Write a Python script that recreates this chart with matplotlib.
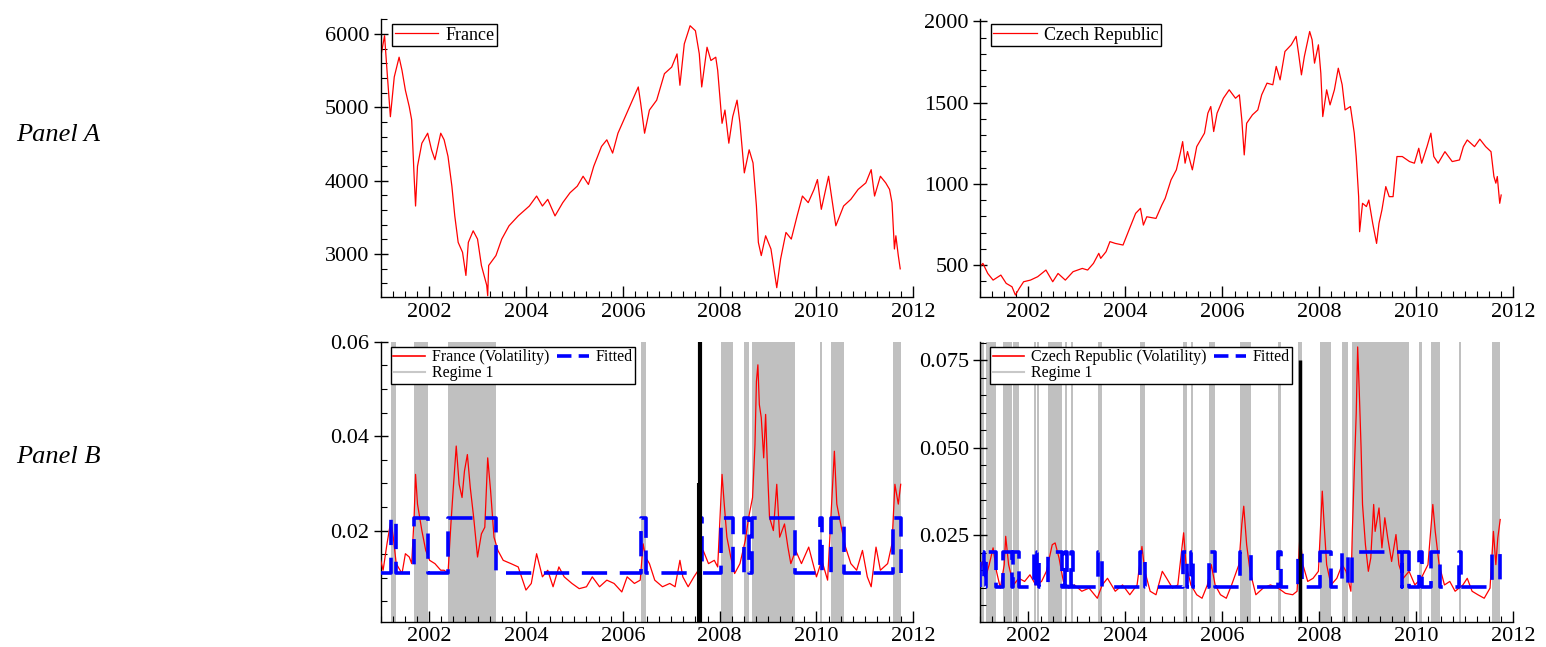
import matplotlib
matplotlib.use('Agg')
import matplotlib.pyplot as plt
from matplotlib.lines import Line2D
from matplotlib.ticker import MultipleLocator, FormatStrFormatter

plt.rcParams.update({
    'font.family': ['Liberation Serif', 'DejaVu Serif'],
    'font.size': 15,
    'axes.linewidth': 1.0,
})

RED = '#ff0000'
BLUE = '#0000ff'
SHADE = '#c0c0c0'

# ── Panel A: index levels ─────────────────────────────────────────────────────
fr_year = [2001.00, 2001.08, 2001.13, 2001.20, 2001.28, 2001.38, 2001.44, 2001.51, 2001.59, 2001.64,
           2001.69, 2001.72, 2001.76, 2001.85, 2001.97, 2002.05, 2002.12, 2002.24, 2002.31, 2002.39,
           2002.47, 2002.53, 2002.60, 2002.69, 2002.76, 2002.81, 2002.91, 2003.00, 2003.08, 2003.19,
           2003.21, 2003.23, 2003.38, 2003.50, 2003.65, 2003.84, 2004.07, 2004.22, 2004.34, 2004.45,
           2004.60, 2004.76, 2004.91, 2005.06, 2005.18, 2005.29, 2005.40, 2005.56, 2005.67, 2005.79,
           2005.90, 2006.05, 2006.20, 2006.32, 2006.37, 2006.45, 2006.55, 2006.70, 2006.86, 2007.01,
           2007.12, 2007.18, 2007.27, 2007.39, 2007.50, 2007.58, 2007.63, 2007.74, 2007.82, 2007.92,
           2007.96, 2008.05, 2008.11, 2008.19, 2008.27, 2008.36, 2008.42, 2008.51, 2008.61, 2008.69,
           2008.76, 2008.80, 2008.86, 2008.95, 2009.06, 2009.18, 2009.26, 2009.37, 2009.48, 2009.60,
           2009.71, 2009.83, 2009.95, 2010.02, 2010.10, 2010.25, 2010.37, 2010.40, 2010.56, 2010.71,
           2010.86, 2011.02, 2011.13, 2011.20, 2011.32, 2011.43, 2011.51, 2011.56, 2011.61, 2011.64,
           2011.69, 2011.73]
fr_index = [5684, 5977, 5504, 4872, 5414, 5684, 5504, 5233, 5008, 4827,
            4060, 3654, 4196, 4510, 4647, 4421, 4286, 4647, 4557, 4331,
            3925, 3519, 3158, 3023, 2707, 3158, 3316, 3203, 2843, 2572,
            2430, 2843, 2978, 3203, 3384, 3519, 3654, 3790, 3654, 3745,
            3519, 3700, 3835, 3925, 4060, 3948, 4196, 4466, 4557, 4376,
            4647, 4872, 5098, 5278, 5053, 4647, 4963, 5098, 5459, 5549,
            5729, 5301, 5865, 6113, 6045, 5729, 5278, 5820, 5639, 5684,
            5504, 4782, 4963, 4511, 4872, 5098, 4782, 4106, 4421, 4241,
            3654, 3158, 2978, 3248, 3068, 2540, 2933, 3294, 3203, 3519,
            3790, 3700, 3880, 4015, 3609, 4060, 3519, 3384, 3654, 3745,
            3880, 3970, 4150, 3790, 4060, 3970, 3880, 3700, 3068, 3248,
            2978, 2797]

cz_year = [2001.00, 2001.06, 2001.16, 2001.27, 2001.43, 2001.54, 2001.66, 2001.73, 2001.81, 2001.90,
           2002.04, 2002.19, 2002.36, 2002.50, 2002.61, 2002.76, 2002.92, 2003.11, 2003.22, 2003.34,
           2003.45, 2003.49, 2003.60, 2003.68, 2003.79, 2003.95, 2004.10, 2004.21, 2004.31, 2004.37,
           2004.44, 2004.63, 2004.75, 2004.82, 2004.94, 2005.05, 2005.13, 2005.18, 2005.23, 2005.28,
           2005.38, 2005.47, 2005.63, 2005.70, 2005.76, 2005.82, 2005.89, 2006.02, 2006.14, 2006.27,
           2006.35, 2006.40, 2006.45, 2006.50, 2006.62, 2006.73, 2006.81, 2006.92, 2007.04, 2007.11,
           2007.19, 2007.29, 2007.42, 2007.52, 2007.57, 2007.63, 2007.69, 2007.80, 2007.85, 2007.90,
           2007.98, 2008.03, 2008.07, 2008.15, 2008.22, 2008.31, 2008.39, 2008.47, 2008.53, 2008.64,
           2008.72, 2008.76, 2008.81, 2008.83, 2008.89, 2008.97, 2009.02, 2009.10, 2009.18, 2009.23,
           2009.29, 2009.37, 2009.44, 2009.52, 2009.60, 2009.71, 2009.86, 2009.96, 2010.05, 2010.11,
           2010.22, 2010.30, 2010.36, 2010.45, 2010.59, 2010.74, 2010.89, 2010.97, 2011.05, 2011.20,
           2011.31, 2011.43, 2011.54, 2011.60, 2011.64, 2011.67, 2011.72, 2011.75]
cz_index = [490, 510, 448, 407, 438, 387, 366, 315, 356, 397,
            407, 428, 469, 397, 448, 407, 459, 479, 469, 510,
            572, 541, 582, 644, 633, 623, 736, 818, 849, 746,
            797, 787, 869, 911, 1024, 1086, 1188, 1260, 1127, 1199,
            1086, 1229, 1312, 1435, 1476, 1322, 1435, 1527, 1579, 1527,
            1548, 1394, 1178, 1373, 1425, 1455, 1548, 1620, 1610, 1723,
            1640, 1815, 1856, 1908, 1805, 1671, 1784, 1938, 1887, 1743,
            1856, 1681, 1414, 1579, 1486, 1579, 1712, 1610, 1455, 1476,
            1312, 1168, 921, 705, 880, 860, 900, 757, 633, 757,
            839, 983, 921, 921, 1168, 1168, 1137, 1127, 1219, 1127,
            1229, 1312, 1168, 1127, 1198, 1137, 1147, 1229, 1270, 1229,
            1275, 1229, 1198, 1045, 1004, 1045, 880, 931]

# ── Panel B: volatility, fitted levels and regime-1 periods ───────────────────
frv_year = [2001.00, 2001.05, 2001.13, 2001.21, 2001.26, 2001.32, 2001.44, 2001.51, 2001.59, 2001.64,
            2001.69, 2001.72, 2001.76, 2001.85, 2001.93, 2002.01, 2002.12, 2002.24, 2002.31, 2002.39,
            2002.45, 2002.50, 2002.56, 2002.62, 2002.68, 2002.73, 2002.79, 2002.85, 2002.92, 2003.00,
            2003.08, 2003.15, 2003.21, 2003.27, 2003.34, 2003.42, 2003.53, 2003.69, 2003.84, 2004.00,
            2004.11, 2004.22, 2004.34, 2004.45, 2004.56, 2004.68, 2004.79, 2004.95, 2005.10, 2005.25,
            2005.37, 2005.52, 2005.67, 2005.82, 2005.98, 2006.09, 2006.24, 2006.36, 2006.42, 2006.47,
            2006.55, 2006.66, 2006.82, 2006.97, 2007.08, 2007.18, 2007.24, 2007.35, 2007.47, 2007.56,
            2007.66, 2007.77, 2007.89, 2007.96, 2008.05, 2008.09, 2008.15, 2008.23, 2008.31, 2008.42,
            2008.53, 2008.60, 2008.68, 2008.73, 2008.76, 2008.79, 2008.82, 2008.86, 2008.91, 2008.95,
            2008.99, 2009.03, 2009.11, 2009.18, 2009.24, 2009.34, 2009.41, 2009.47, 2009.57, 2009.69,
            2009.84, 2010.00, 2010.11, 2010.23, 2010.37, 2010.42, 2010.50, 2010.60, 2010.71, 2010.83,
            2010.95, 2011.05, 2011.13, 2011.23, 2011.32, 2011.47, 2011.56, 2011.62, 2011.69, 2011.74]
frv_vol = [0.0137, 0.0116, 0.0172, 0.0221, 0.0186, 0.0130, 0.0109, 0.0151, 0.0144, 0.0130,
           0.0228, 0.0319, 0.0256, 0.0200, 0.0158, 0.0137, 0.0130, 0.0116, 0.0116, 0.0109,
           0.0214, 0.0291, 0.0379, 0.0298, 0.0270, 0.0326, 0.0361, 0.0291, 0.0228, 0.0144,
           0.0193, 0.0207, 0.0354, 0.0284, 0.0186, 0.0158, 0.0137, 0.0130, 0.0123, 0.0074,
           0.0088, 0.0151, 0.0102, 0.0116, 0.0081, 0.0123, 0.0102, 0.0088, 0.0077, 0.0081,
           0.0102, 0.0081, 0.0095, 0.0088, 0.0070, 0.0102, 0.0088, 0.0095, 0.0172, 0.0144,
           0.0130, 0.0095, 0.0081, 0.0088, 0.0081, 0.0137, 0.0102, 0.0081, 0.0102, 0.0116,
           0.0158, 0.0130, 0.0137, 0.0123, 0.0319, 0.0263, 0.0186, 0.0144, 0.0109, 0.0130,
           0.0179, 0.0228, 0.0270, 0.0382, 0.0516, 0.0551, 0.0467, 0.0439, 0.0354, 0.0446,
           0.0326, 0.0228, 0.0200, 0.0298, 0.0186, 0.0214, 0.0165, 0.0130, 0.0158, 0.0130,
           0.0165, 0.0102, 0.0137, 0.0095, 0.0368, 0.0256, 0.0214, 0.0165, 0.0130, 0.0116,
           0.0158, 0.0102, 0.0081, 0.0165, 0.0116, 0.0130, 0.0172, 0.0298, 0.0256, 0.0298]
fr_fit_low, fr_fit_high = 0.0111, 0.0226
fr_reg_start = [2001.21, 2001.68, 2002.40, 2006.37, 2007.60, 2008.02, 2008.51, 2008.67, 2010.08, 2010.31, 2011.58]
fr_reg_end   = [2001.31, 2001.98, 2003.38, 2006.47, 2007.64, 2008.27, 2008.61, 2009.56, 2010.11, 2010.57, 2011.75]

czv_year = [2001.00, 2001.05, 2001.11, 2001.19, 2001.27, 2001.34, 2001.42, 2001.50, 2001.53, 2001.59,
            2001.69, 2001.80, 2001.92, 2002.03, 2002.15, 2002.27, 2002.37, 2002.49, 2002.55, 2002.63,
            2002.72, 2002.83, 2002.95, 2003.10, 2003.25, 2003.42, 2003.52, 2003.63, 2003.79, 2003.94,
            2004.09, 2004.24, 2004.34, 2004.40, 2004.51, 2004.63, 2004.76, 2004.85, 2004.97, 2005.08,
            2005.20, 2005.25, 2005.35, 2005.47, 2005.58, 2005.69, 2005.77, 2005.85, 2005.96, 2006.08,
            2006.19, 2006.34, 2006.40, 2006.44, 2006.50, 2006.57, 2006.69, 2006.84, 2006.99, 2007.15,
            2007.30, 2007.45, 2007.54, 2007.60, 2007.66, 2007.76, 2007.87, 2007.98, 2008.06, 2008.09,
            2008.15, 2008.24, 2008.36, 2008.47, 2008.55, 2008.65, 2008.68, 2008.72, 2008.76, 2008.79,
            2008.82, 2008.86, 2008.89, 2008.95, 2009.01, 2009.06, 2009.12, 2009.15, 2009.23, 2009.29,
            2009.35, 2009.41, 2009.49, 2009.58, 2009.64, 2009.73, 2009.85, 2009.97, 2010.10, 2010.24,
            2010.34, 2010.39, 2010.47, 2010.58, 2010.69, 2010.80, 2010.96, 2011.05, 2011.15, 2011.27,
            2011.40, 2011.52, 2011.59, 2011.64, 2011.68, 2011.73]
czv_vol = [0.0147, 0.0175, 0.0127, 0.0166, 0.0214, 0.0147, 0.0099, 0.0166, 0.0247, 0.0166,
           0.0108, 0.0127, 0.0118, 0.0137, 0.0108, 0.0118, 0.0147, 0.0223, 0.0228, 0.0185,
           0.0118, 0.0099, 0.0108, 0.0090, 0.0099, 0.0070, 0.0108, 0.0127, 0.0090, 0.0108,
           0.0080, 0.0108, 0.0218, 0.0147, 0.0090, 0.0080, 0.0147, 0.0127, 0.0099, 0.0108,
           0.0257, 0.0166, 0.0108, 0.0080, 0.0070, 0.0108, 0.0166, 0.0108, 0.0080, 0.0070,
           0.0108, 0.0166, 0.0281, 0.0333, 0.0223, 0.0147, 0.0080, 0.0099, 0.0108, 0.0099,
           0.0084, 0.0080, 0.0090, 0.0252, 0.0166, 0.0118, 0.0127, 0.0147, 0.0376, 0.0300,
           0.0166, 0.0108, 0.0127, 0.0166, 0.0147, 0.0090, 0.0261, 0.0434, 0.0597, 0.0788,
           0.0673, 0.0501, 0.0338, 0.0223, 0.0147, 0.0185, 0.0338, 0.0261, 0.0328, 0.0214,
           0.0300, 0.0242, 0.0175, 0.0252, 0.0166, 0.0127, 0.0147, 0.0108, 0.0127, 0.0166,
           0.0338, 0.0261, 0.0166, 0.0108, 0.0118, 0.0090, 0.0108, 0.0127, 0.0090, 0.0080,
           0.0070, 0.0099, 0.0261, 0.0166, 0.0242, 0.0295]
cz_fit_low, cz_fit_high = 0.0101, 0.0202
cz_reg_start = [2001.00, 2001.12, 2001.48, 2001.69, 2002.11, 2002.18, 2002.41, 2002.76, 2002.87, 2003.44,
                2004.31, 2005.18, 2005.35, 2005.73, 2006.36, 2007.15, 2007.56, 2008.02, 2008.47, 2008.67,
                2009.71, 2010.05, 2010.31, 2010.89, 2011.57]
cz_reg_end   = [2001.08, 2001.32, 2001.65, 2001.80, 2002.15, 2002.22, 2002.70, 2002.79, 2002.92, 2003.52,
                2004.40, 2005.27, 2005.40, 2005.85, 2006.59, 2007.21, 2007.64, 2008.25, 2008.60, 2009.70,
                2009.85, 2010.12, 2010.49, 2010.93, 2011.73]

break_year = 2007.6


def step_fit(starts, ends, lo, hi, x0, x1):
    xs, ys = [x0], [lo]
    for s, e in zip(starts, ends):
        xs += [s, s, e, e]
        ys += [lo, hi, hi, lo]
    if ends[-1] < x1:
        xs.append(x1)
        ys.append(lo)
    return xs, ys


def style_axes(ax, ymajor, yminor, fmt):
    for side in ('top', 'right'):
        ax.spines[side].set_visible(False)
    ax.set_xlim(2001, 2012)
    ax.xaxis.set_major_locator(MultipleLocator(2))
    ax.xaxis.set_minor_locator(MultipleLocator(0.25))
    ax.xaxis.set_major_formatter(FormatStrFormatter('%d'))
    ax.yaxis.set_major_locator(MultipleLocator(ymajor))
    ax.yaxis.set_minor_locator(MultipleLocator(yminor))
    ax.yaxis.set_major_formatter(FormatStrFormatter(fmt))
    ax.tick_params(axis='x', which='major', direction='in', length=8, width=1, labelsize=16, pad=4)
    ax.tick_params(axis='x', which='minor', direction='in', length=4, width=0.8)
    ax.tick_params(axis='y', which='major', direction='inout', length=10, width=1, labelsize=16, pad=3)
    ax.tick_params(axis='y', which='minor', direction='in', length=4, width=0.8)


fig = plt.figure(figsize=(15.46, 6.47), dpi=100)
W, H = 1546, 647


def add_ax(x0, x1, y0, y1):
    return fig.add_axes([x0 / W, 1 - y1 / H, (x1 - x0) / W, (y1 - y0) / H])


axA1 = add_ax(380.7, 913.3, 19, 297)
axA2 = add_ax(980, 1513.3, 19, 297)
axB1 = add_ax(380.7, 913.3, 341.7, 621.7)
axB2 = add_ax(980, 1513.3, 341.7, 621.7)

leg_kw = dict(loc='upper left', borderaxespad=0, fancybox=False, framealpha=1,
              edgecolor='black')

# Panel A
axA1.plot(fr_year, fr_index, color=RED, lw=0.9, label='France')
axA1.set_ylim(2413, 6205)
style_axes(axA1, 1000, 200, '%d')
axA1.legend(bbox_to_anchor=(0.021, 0.982), fontsize=13, handlelength=2.4, borderpad=0.15,
            handletextpad=0.4, **leg_kw).get_frame().set_linewidth(1)

axA2.plot(cz_year, cz_index, color=RED, lw=0.9, label='Czech Republic')
axA2.set_ylim(303, 2015)
style_axes(axA2, 500, 100, '%d')
axA2.legend(bbox_to_anchor=(0.02, 0.982), fontsize=13, handlelength=2.4, borderpad=0.15,
            handletextpad=0.4, **leg_kw).get_frame().set_linewidth(1)

# Panel B
for ax, yrs, vol, starts, ends, lo, hi, ylim, ymaj, fmt, name in [
    (axB1, frv_year, frv_vol, fr_reg_start, fr_reg_end, fr_fit_low, fr_fit_high,
     (0.0007, 0.0600), 0.02, '%.2f', 'France'),
    (axB2, czv_year, czv_vol, cz_reg_start, cz_reg_end, cz_fit_low, cz_fit_high,
     (0.0003, 0.0803), 0.025, '%.3f', 'Czech Republic'),
]:
    for s, e in zip(starts, ends):
        ax.axvspan(s, e, color=SHADE, lw=0, zorder=1)
    ax.plot(yrs, vol, color=RED, lw=0.9, zorder=3)
    fx, fy = step_fit(starts, ends, lo, hi, yrs[0], yrs[-1])
    ax.plot(fx, fy, color=BLUE, lw=2.6, dashes=(7, 3.5), zorder=4)
    ax.set_ylim(*ylim)
    style_axes(ax, ymaj, 0.005, fmt)
    handles = [Line2D([], [], color=RED, lw=1.2),
               Line2D([], [], color='#c8c8c8', lw=1.5),
               Line2D([], [], color=BLUE, lw=2.6, dashes=(4, 2))]
    labels = [f'{name} (Volatility)', 'Regime 1', 'Fitted']
    leg = ax.legend(handles, labels, ncol=2, bbox_to_anchor=(0.019, 0.981),
                    fontsize=11.5, handlelength=2.0, handletextpad=0.4,
                    labelspacing=0.0, columnspacing=0.5, borderpad=0.15, **leg_kw)
    leg.get_frame().set_linewidth(1)

axB1.vlines(break_year, 0.0007, 0.0600, color='black', lw=3, zorder=5)
axB1.vlines(break_year - 0.04, 0.0007, 0.030, color='black', lw=1.5, zorder=5)
axB2.vlines(break_year, 0.0003, 0.075, color='black', lw=2.5, zorder=5)

fig.text(16 / W, 1 - 135 / H, 'Panel A', fontsize=19, style='italic', va='center', ha='left')
fig.text(16 / W, 1 - 457 / H, 'Panel B', fontsize=19, style='italic', va='center', ha='left')

fig.savefig('out.png', dpi=100, facecolor='white')
